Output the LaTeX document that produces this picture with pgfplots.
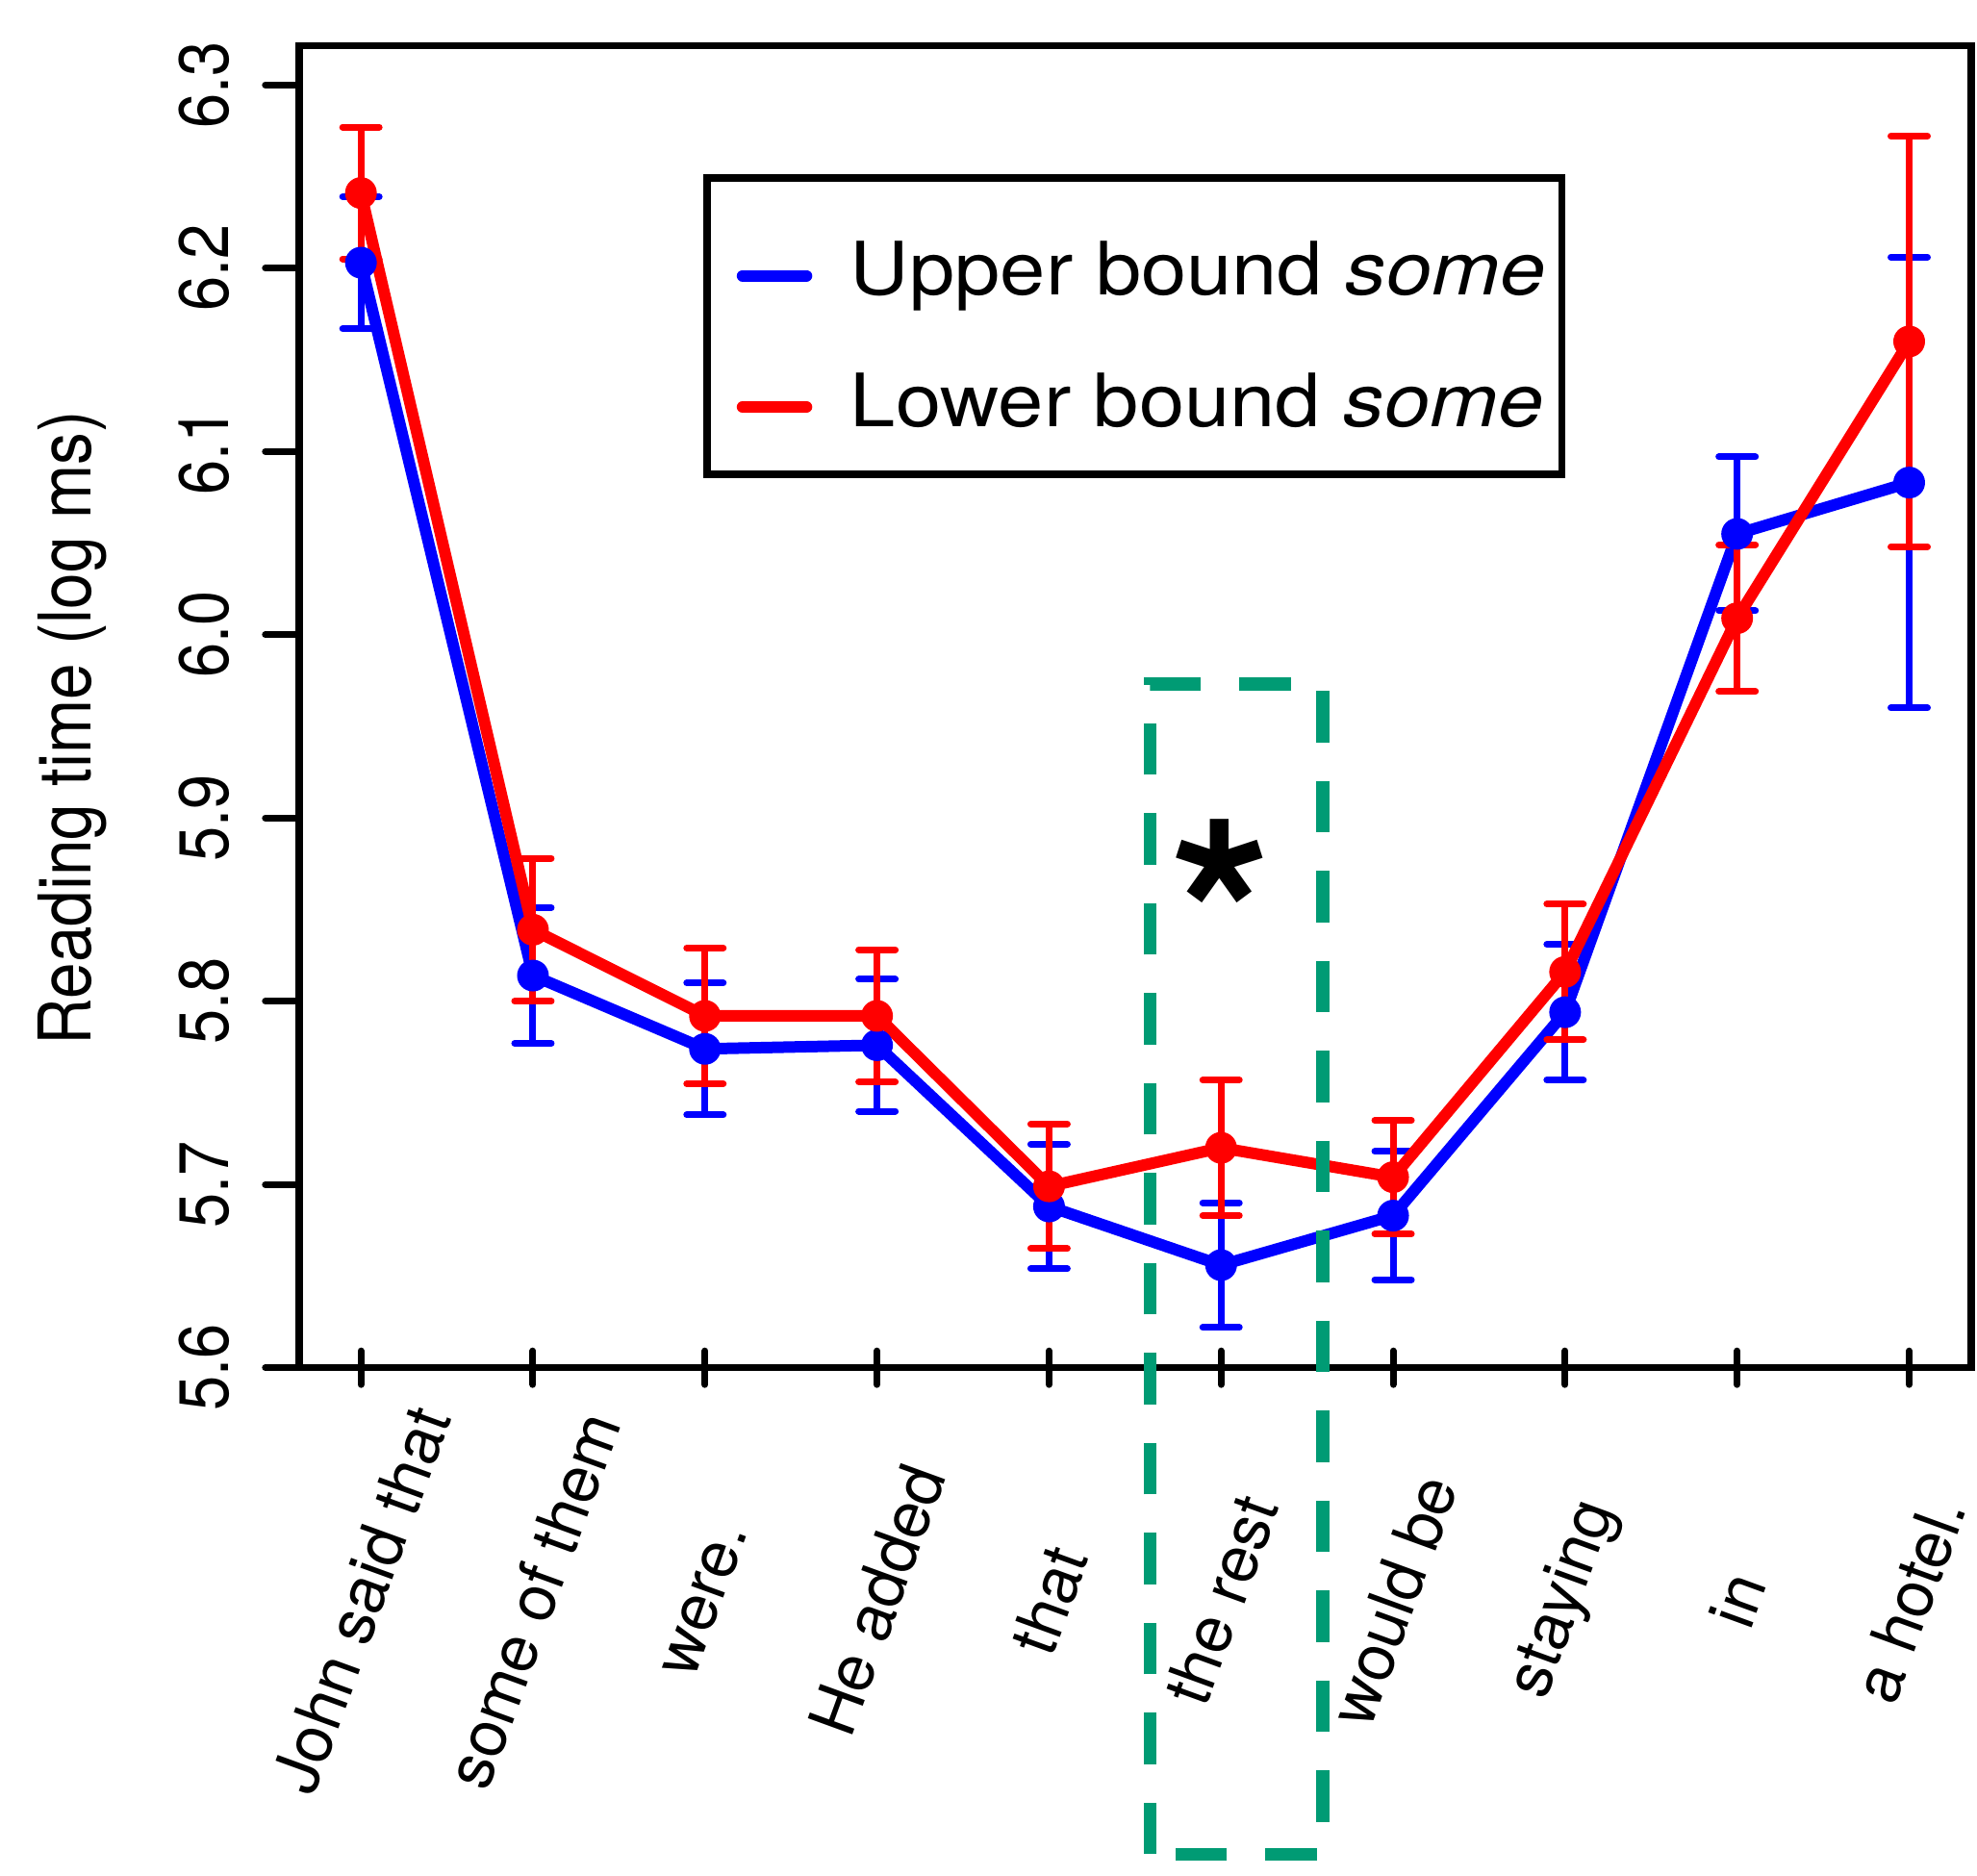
\documentclass[border=0pt]{standalone}
\usepackage{fontspec}
\setmainfont{TeX Gyre Heros}
\usepackage{pgfplots}
\usepackage{pgfplotstable}
\pgfplotsset{compat=1.18}

\definecolor{ublue}{RGB}{0,0,255}
\definecolor{lred}{RGB}{255,0,0}
\definecolor{boxgreen}{RGB}{0,155,116}

% region, mean log RT, half-width of error bar
\pgfplotstableread{
x y e
1 6.203 0.036
2 5.814 0.037
3 5.774 0.036
4 5.776 0.036
5 5.688 0.034
6 5.656 0.034
7 5.683 0.035
8 5.794 0.037
9 6.055 0.042
10 6.083 0.123
}\upperbound

\pgfplotstableread{
x y e
1 6.241 0.036
2 5.839 0.039
3 5.792 0.037
4 5.792 0.036
5 5.699 0.034
6 5.720 0.037
7 5.704 0.031
8 5.816 0.037
9 6.009 0.040
10 6.160 0.112
}\lowerbound

\begin{document}
\begin{tikzpicture}
\useasboundingbox (-62.16pt,-105.46pt) rectangle (348.84pt,284.34pt);
\begin{axis}[
  scale only axis, width=347.6pt, height=274.88pt,
  xmin=0.64, xmax=10.36, ymin=5.6, ymax=6.3215,
  clip=false,
  axis line style={line width=1.5pt},
  tick pos=left,
  tick align=outside, major tick length=7pt,
  every tick/.style={black, line width=1.4pt, line cap=round},
  xtick style={yshift=3.5pt},
  xtick={1,...,10},
  xticklabels={John said that, some of them, were., He added, that, the rest, would be, staying, in, a hotel.},
  xticklabel style={yshift=-41.3pt, rotate=70, anchor=center, inner sep=0pt, font=\fontsize{13.5}{15}\selectfont},
  ytick={5.6,5.7,5.8,5.9,6.0,6.1,6.2,6.3},
  yticklabel={\scalebox{1}[1.12]{\pgfmathprintnumber[fixed,fixed zerofill,precision=1,assume math mode=true]{\tick}}},
  yticklabel style={xshift=-7.3pt, rotate=90, anchor=south, inner sep=0pt, font=\fontsize{13}{15}\selectfont},
  ylabel={\scalebox{1}[1.12]{Reading time (log ms)}},
  ylabel style={at={(axis description cs:-0.1356,0.4837)}, anchor=center, inner sep=0pt, font=\fontsize{13.5}{16}\selectfont},
  legend style={at={(0.2418,0.9025)}, anchor=north west, draw=black, line width=1.5pt,
    inner xsep=3.4pt, inner ysep=10pt, row sep=13pt, column sep=5.6pt,
    font=\fontsize{15.3}{18}\selectfont,
    nodes={inner sep=0pt, text height=14.3pt, text depth=0pt}, cells={anchor=west}},
  legend image code/.code={
    \draw[#1, line width=2.4pt, line cap=round] (2.8pt,-3.15pt) -- (16.1pt,-3.15pt);
    \path (0pt,3.15pt) (18.4pt,-3.15pt);},
]
\addplot[ublue, line width=2.4pt, line join=round,
  mark=*, mark options={solid, line width=0.4pt, mark size=3.1pt},
  error bars/.cd, y dir=both, y explicit,
  error bar style={line width=1.4pt},
  error mark options={rotate=90, mark size=3.8pt, line width=1.4pt, line cap=round}]
  table[x=x, y=y, y error=e] {\upperbound};
\addlegendentry{\scalebox{1.11}[1]{Upper bound \textit{some}}}

\addplot[lred, line width=2.4pt, line join=round,
  mark=*, mark options={solid, line width=0.4pt, mark size=3.1pt},
  error bars/.cd, y dir=both, y explicit,
  error bar style={line width=1.4pt},
  error mark options={rotate=90, mark size=3.8pt, line width=1.4pt, line cap=round}]
  table[x=x, y=y, y error=e] {\lowerbound};
\addlegendentry{\scalebox{1.11}[1]{Lower bound \textit{some}}}

% critical region
\draw[boxgreen, line width=2.7pt, dash pattern=on 10.7pt off 8pt]
  (axis cs:5.588,5.3346) rectangle (axis cs:6.592,5.973);
\node[anchor=north, inner sep=0pt, font=\fontsize{54}{54}\selectfont\bfseries]
  at (axis cs:6,5.900) {*};
\end{axis}
\end{tikzpicture}
\end{document}
